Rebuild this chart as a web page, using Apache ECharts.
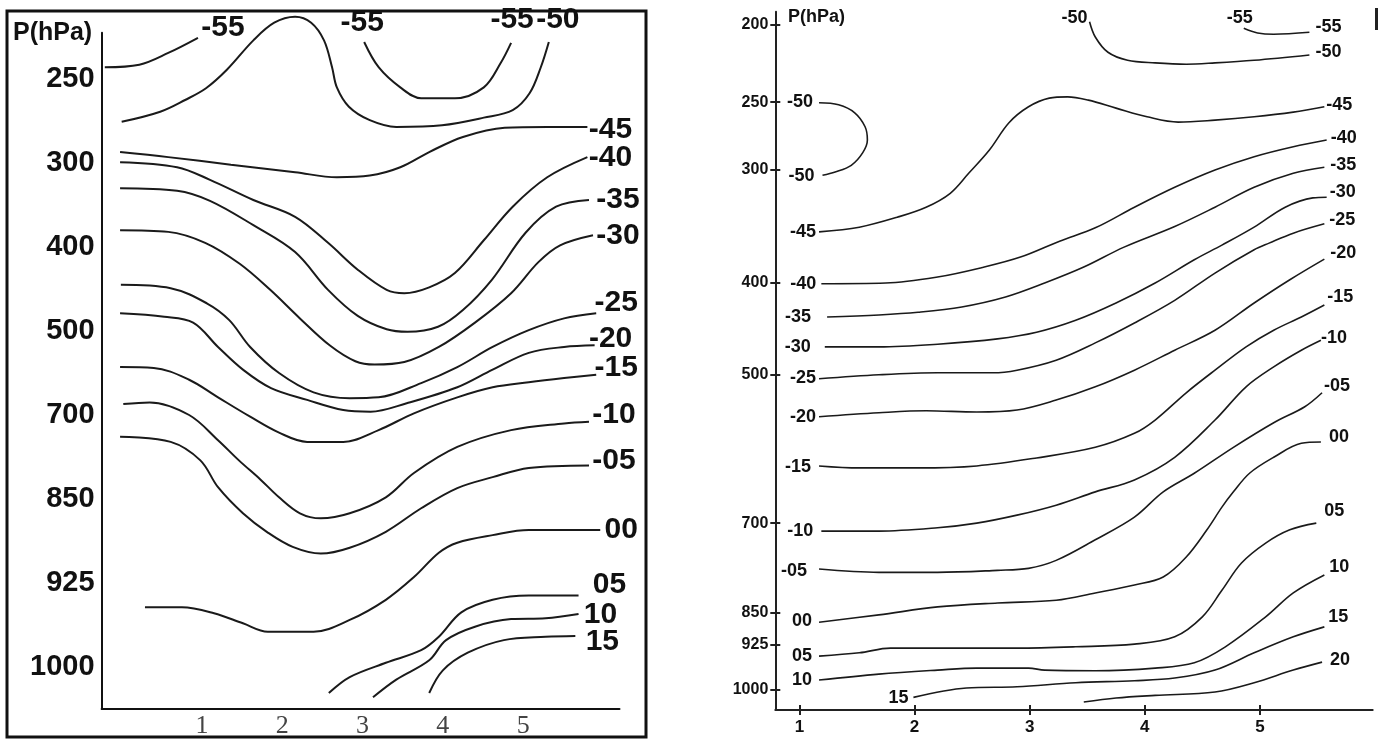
<!DOCTYPE html>
<html>
<head>
<meta charset="utf-8">
<script src="https://cdn.jsdelivr.net/npm/echarts@6/dist/echarts.min.js"></script>
<style>
  html, body { margin: 0; padding: 0; background: #fff; }
  #chart { width: 1380px; height: 742px; }
</style>
</head>
<body>
<div id="chart"></div>
<script>
// ---------- left panel: x = station, y = pressure level index (equally spaced levels) ----------
var leftStations = [1, 2, 3, 4, 5];
var leftLevels = ['250', '300', '400', '500', '700', '850', '925', '1000'];

var L_m55a = [[-0.21,-0.14],[0.22,-0.17],[0.58,-0.31],[0.95,-0.49]];
var L_m50  = [[0.00,0.51],[0.48,0.39],[0.79,0.25],[1.05,0.11],[1.31,-0.11],[1.64,-0.46],[1.90,-0.67],[2.16,-0.74],[2.36,-0.67],[2.52,-0.46],[2.62,-0.14],[2.68,0.10],[2.83,0.33],[3.09,0.49],[3.42,0.57],[3.99,0.55],[4.51,0.46],[4.87,0.37],[5.08,0.17],[5.22,-0.14],[5.32,-0.44]];
var L_m55b = [[3.02,-0.44],[3.20,-0.14],[3.47,0.10],[3.73,0.23],[4.15,0.23],[4.51,0.10],[4.72,-0.19],[4.85,-0.43]];
var L_m45  = [[-0.02,0.87],[0.58,0.93],[1.36,1.02],[2.16,1.11],[2.68,1.17],[3.09,1.15],[3.47,1.05],[3.83,0.87],[4.25,0.69],[4.77,0.58],[5.30,0.57],[5.80,0.57]];
var L_m40  = [[-0.02,0.99],[0.69,1.05],[1.10,1.20],[1.64,1.44],[2.16,1.64],[2.57,1.95],[2.94,2.27],[3.30,2.51],[3.52,2.55],[3.83,2.48],[4.15,2.31],[4.51,1.92],[4.87,1.52],[5.30,1.17],[5.80,0.93]];
var L_m35  = [[-0.02,1.30],[0.69,1.33],[1.10,1.45],[1.64,1.74],[2.16,2.06],[2.57,2.51],[2.94,2.82],[3.30,2.98],[3.56,3.01],[3.94,2.95],[4.25,2.75],[4.61,2.39],[5.03,1.83],[5.41,1.52],[5.82,1.44]];
var L_m30  = [[-0.02,1.80],[0.58,1.82],[1.04,1.95],[1.47,2.20],[1.85,2.51],[2.22,2.85],[2.59,3.17],[2.91,3.36],[3.15,3.40],[3.52,3.37],[3.95,3.19],[4.40,2.90],[4.85,2.55],[5.19,2.18],[5.46,1.98],[5.87,1.86]];
var L_m25  = [[-0.01,2.45],[0.61,2.49],[1.06,2.67],[1.34,2.87],[1.60,3.19],[1.96,3.50],[2.39,3.73],[2.84,3.80],[3.20,3.79],[3.73,3.62],[4.18,3.43],[4.62,3.19],[5.07,2.99],[5.51,2.85],[5.91,2.79]];
var L_m20  = [[-0.02,2.79],[0.53,2.83],[0.89,2.90],[1.20,3.19],[1.51,3.46],[1.86,3.68],[2.31,3.82],[2.76,3.94],[3.10,3.96],[3.55,3.86],[4.18,3.67],[4.62,3.46],[5.07,3.26],[5.51,3.19],[5.89,3.17]];
var L_m15  = [[-0.02,3.43],[0.40,3.44],[0.84,3.58],[1.20,3.79],[1.60,4.02],[1.96,4.21],[2.31,4.32],[2.76,4.32],[3.20,4.18],[3.64,3.98],[4.18,3.79],[4.62,3.67],[5.07,3.61],[5.51,3.56],[5.91,3.52]];
var L_m10  = [[0.02,3.87],[0.35,3.85],[0.84,4.00],[1.20,4.30],[1.46,4.54],[1.73,4.77],[1.96,4.98],[2.22,5.17],[2.48,5.23],[2.84,5.17],[3.29,4.98],[3.64,4.69],[4.18,4.38],[4.85,4.18],[5.51,4.10],[5.82,4.08]];
var L_m05  = [[-0.02,4.26],[0.61,4.32],[0.98,4.54],[1.20,4.86],[1.51,5.17],[1.82,5.40],[2.13,5.57],[2.48,5.65],[2.84,5.58],[3.29,5.39],[3.73,5.11],[4.18,4.87],[4.62,4.74],[5.07,4.63],[5.82,4.60]];
var L_00   = [[0.29,6.29],[0.75,6.29],[1.15,6.36],[1.51,6.48],[1.82,6.58],[2.39,6.58],[2.84,6.44],[3.29,6.20],[3.64,5.93],[3.95,5.64],[4.18,5.52],[4.62,5.43],[5.07,5.37],[5.51,5.37],[5.96,5.37]];
var L_05   = [[2.58,7.31],[2.84,7.12],[3.29,6.95],[3.73,6.80],[3.95,6.64],[4.23,6.35],[4.62,6.20],[5.07,6.15],[5.69,6.15]];
var L_10   = [[3.13,7.36],[3.42,7.15],[3.83,6.92],[4.04,6.68],[4.40,6.52],[4.85,6.43],[5.28,6.42],[5.69,6.37]];
var L_15   = [[3.83,7.31],[4.00,7.04],[4.31,6.83],[4.76,6.68],[5.28,6.64],[5.65,6.63]];

// ---------- right panel: x = station, y = vertical diagram coordinate of the drawn pressure scale ----------
var rightStations = [1, 2, 3, 4, 5];
var rightLevels = ['200', '250', '300', '400', '500', '700', '850', '925', '1000'];
var rightLevelY = [0, 1.16, 2.18, 3.88, 5.26, 7.49, 8.84, 9.32, 10];

var R_m55  = [[4.86,0.05],[4.98,0.12],[5.12,0.14],[5.43,0.11]];
var R_m50a = [[3.52,-0.05],[3.57,0.18],[3.68,0.41],[3.85,0.53],[4.09,0.57],[4.36,0.59],[4.61,0.57],[4.95,0.53],[5.43,0.45]];
var R_m50b = [[1.17,1.17],[1.34,1.20],[1.48,1.32],[1.57,1.53],[1.59,1.73],[1.55,1.92],[1.45,2.11],[1.31,2.21],[1.20,2.26]];
var R_m45  = [[1.17,3.11],[1.52,3.04],[1.85,2.89],[2.10,2.74],[2.31,2.53],[2.47,2.23],[2.65,1.88],[2.82,1.47],[2.99,1.23],[3.17,1.10],[3.33,1.08],[3.51,1.13],[3.75,1.25],[4.02,1.38],[4.29,1.46],[4.61,1.43],[4.95,1.38],[5.29,1.31],[5.56,1.23]];
var R_m40  = [[1.19,3.89],[1.75,3.88],[2.20,3.79],[2.58,3.65],[2.92,3.49],[3.26,3.25],[3.57,3.05],[3.91,2.74],[4.26,2.44],[4.61,2.18],[4.95,1.98],[5.29,1.83],[5.58,1.73]];
var R_m35  = [[1.24,4.39],[1.69,4.36],[2.03,4.32],[2.41,4.24],[2.79,4.09],[3.13,3.88],[3.47,3.64],[3.82,3.34],[4.26,3.03],[4.61,2.74],[4.95,2.44],[5.29,2.23],[5.56,2.14]];
var R_m30  = [[1.22,4.84],[1.69,4.84],[2.20,4.80],[2.72,4.72],[3.06,4.62],[3.40,4.44],[3.75,4.18],[4.09,3.88],[4.43,3.53],[4.67,3.31],[4.95,3.04],[5.22,2.74],[5.46,2.60],[5.58,2.59]];
var R_m25  = [[1.17,5.32],[1.69,5.26],[2.20,5.23],[2.68,5.23],[2.89,5.19],[3.23,5.04],[3.57,4.78],[3.91,4.48],[4.26,4.14],[4.61,3.73],[4.95,3.38],[5.08,3.28],[5.29,3.13],[5.56,2.99]];
var R_m20  = [[1.17,5.89],[1.69,5.83],[2.10,5.80],[2.54,5.82],[2.89,5.79],[3.23,5.64],[3.57,5.44],[3.91,5.19],[4.26,4.89],[4.61,4.59],[4.95,4.18],[5.26,3.83],[5.56,3.52]];
var R_m15  = [[1.17,6.63],[1.52,6.66],[2.03,6.66],[2.54,6.63],[3.06,6.51],[3.57,6.35],[3.91,6.14],[4.09,5.94],[4.36,5.53],[4.61,5.19],[4.88,4.84],[5.12,4.59],[5.36,4.39],[5.56,4.21]];
var R_m10  = [[1.19,7.61],[1.69,7.61],[2.20,7.56],[2.54,7.49],[2.89,7.37],[3.23,7.22],[3.57,7.02],[3.91,6.84],[4.26,6.50],[4.61,5.94],[4.88,5.44],[5.12,5.14],[5.36,4.89],[5.53,4.74]];
var R_m05  = [[1.17,8.18],[1.69,8.23],[2.20,8.23],[2.72,8.20],[2.99,8.17],[3.23,8.05],[3.57,7.74],[3.91,7.40],[4.16,7.02],[4.43,6.74],[4.77,6.35],[5.12,5.98],[5.39,5.74],[5.54,5.53]];
var R_00   = [[1.17,8.98],[1.69,8.87],[2.20,8.75],[2.72,8.69],[3.23,8.65],[3.57,8.54],[3.91,8.42],[4.16,8.30],[4.36,8.00],[4.54,7.59],[4.67,7.25],[4.77,7.02],[4.91,6.74],[5.12,6.50],[5.36,6.29],[5.53,6.27]];
var R_05   = [[1.17,9.49],[1.52,9.44],[1.79,9.37],[2.38,9.37],[2.89,9.37],[3.40,9.35],[3.91,9.31],[4.26,9.20],[4.50,8.90],[4.67,8.50],[4.84,8.09],[5.05,7.79],[5.26,7.59],[5.49,7.49]];
var R_10   = [[1.17,9.85],[1.69,9.76],[2.20,9.70],[2.54,9.67],[2.99,9.67],[3.13,9.70],[3.57,9.71],[4.09,9.67],[4.43,9.59],[4.70,9.35],[5.05,8.90],[5.29,8.54],[5.56,8.27]];
var R_15   = [[1.99,10.11],[2.45,9.97],[2.89,9.95],[3.40,9.89],[3.91,9.86],[4.26,9.82],[4.61,9.70],[4.95,9.44],[5.29,9.20],[5.56,9.05]];
var R_20   = [[3.47,10.18],[3.75,10.12],[4.09,10.08],[4.61,10.03],[4.95,9.89],[5.29,9.70],[5.54,9.58]];

// which line ends carry a label, and where the text centre sits relative to that end (px)
var leftContours = [
  { pts: L_m55a, end: ['-55', [25, -10]] },
  { pts: L_m50,  end: ['-50', [9, -22]] },
  { pts: L_m55b, start: ['-55', [-2, -19]], end: ['-55', [1, -23]] },
  { pts: L_m45,  end: ['-45', [23, 3]] },
  { pts: L_m40,  end: ['-40', [23, 1]] },
  { pts: L_m35,  end: ['-35', [29, 0]] },
  { pts: L_m30,  end: ['-30', [25, 0]] },
  { pts: L_m25,  end: ['-25', [20, -11]] },
  { pts: L_m20,  end: ['-20', [16, -7]] },
  { pts: L_m15,  end: ['-15', [20, -7]] },
  { pts: L_m10,  end: ['-10', [25, -7]] },
  { pts: L_m05,  end: ['-05', [25, -5]] },
  { pts: L_00,   end: ['00', [21, 0]] },
  { pts: L_05,   end: ['05', [31, -11]] },
  { pts: L_10,   end: ['10', [22, 1]] },
  { pts: L_15,   end: ['15', [27, 6]] }
];
var rightContours = [
  { pts: R_m55,  start: ['-55', [-4, -10]], end: ['-55', [19, -5]] },
  { pts: R_m50a, start: ['-50', [-15, -4]], end: ['-50', [19, -3]] },
  { pts: R_m50b, start: ['-50', [-19, -1]], end: ['-50', [-21, 1]] },
  { pts: R_m45,  start: ['-45', [-16, 0]], end: ['-45', [15, -2]] },
  { pts: R_m40,  start: ['-40', [-18, 0]], end: ['-40', [17, -2]] },
  { pts: R_m35,  start: ['-35', [-29, 0]], end: ['-35', [19, -2]] },
  { pts: R_m30,  start: ['-30', [-27, 0]], end: ['-30', [16, -5]] },
  { pts: R_m25,  start: ['-25', [-16, -1]], end: ['-25', [18, -4]] },
  { pts: R_m20,  start: ['-20', [-16, 0]], end: ['-20', [19, -6]] },
  { pts: R_m15,  start: ['-15', [-21, 1]], end: ['-15', [16, -8]] },
  { pts: R_m10,  start: ['-10', [-21, 0]], end: ['-10', [13, -2]] },
  { pts: R_m05,  start: ['-05', [-25, 2]], end: ['-05', [15, -7]] },
  { pts: R_00,   start: ['00', [-17, -1]], end: ['00', [18, -5]] },
  { pts: R_05,   start: ['05', [-17, 0]], end: ['05', [18, -12]] },
  { pts: R_10,   start: ['10', [-17, 0]], end: ['10', [15, -8]] },
  { pts: R_15,   start: ['15', [-15, 1]], end: ['15', [14, -10]] },
  { pts: R_20,   end: ['20', [18, -2]] }
];

var SANS = "'Liberation Sans', Arial, sans-serif";

function contourSeries(list, xi, yi, lineW, fontSize) {
  var out = [];
  var labels = [];
  list.forEach(function (c) {
    out.push({
      type: 'line', xAxisIndex: xi, yAxisIndex: yi,
      data: c.pts, smooth: 0.35, symbol: 'none', clip: false,
      lineStyle: { color: '#1a1a1a', width: lineW },
      silent: true, animation: false
    });
    if (c.start) labels.push({ value: c.pts[0], label: { formatter: c.start[0], offset: c.start[1] } });
    if (c.end) labels.push({ value: c.pts[c.pts.length - 1], label: { formatter: c.end[0], offset: c.end[1] } });
  });
  out.push({
    type: 'scatter', xAxisIndex: xi, yAxisIndex: yi,
    data: labels, symbolSize: 1, clip: false,
    itemStyle: { color: 'rgba(0,0,0,0)', opacity: 1 },
    label: {
      show: true, position: 'inside', color: '#111', opacity: 1,
      fontFamily: SANS, fontWeight: 'bold', fontSize: fontSize
    },
    silent: true, animation: false, z: 5
  });
  return out;
}

var chart = echarts.init(document.getElementById('chart'));

var RX = { min: 0.79, max: 5.98 };
var RY = { min: -0.2, max: 10.3 };
var tickStyle = { color: '#222', width: 2 };

chart.setOption({
  backgroundColor: '#fff',
  animation: false,
  grid: [
    { left: 101.6, top: 32.8, width: 517.9, height: 676.2 },
    { left: 775.3, top: 11.7, width: 597.4, height: 698.3 }
  ],
  xAxis: [
    {
      gridIndex: 0, type: 'value', position: 'bottom', min: -0.25, max: 6.2,
      axisLine: { show: true, onZero: false, lineStyle: { color: '#111', width: 2 } },
      axisTick: { show: false }, splitLine: { show: false },
      axisLabel: {
        customValues: leftStations, margin: 4,
        fontFamily: "'Liberation Serif', 'DejaVu Serif', serif", fontSize: 26, color: '#444'
      }
    },
    {
      gridIndex: 1, type: 'value', position: 'bottom', min: RX.min, max: RX.max,
      axisLine: { show: true, onZero: false, lineStyle: { color: '#222', width: 2 } },
      axisTick: { show: true, customValues: rightStations, length: 5, lineStyle: tickStyle },
      splitLine: { show: false },
      axisLabel: {
        customValues: rightStations, margin: 9,
        fontFamily: SANS, fontWeight: 'bold', fontSize: 17, color: '#111'
      }
    },
    {
      gridIndex: 1, type: 'value', position: 'bottom', min: RX.min, max: RX.max,
      axisLine: { show: false, onZero: false },
      axisTick: { show: true, inside: true, customValues: rightStations, length: 5, lineStyle: tickStyle },
      axisLabel: { show: false }, splitLine: { show: false }
    }
  ],
  yAxis: [
    {
      gridIndex: 0, type: 'value', position: 'left', inverse: true, min: -0.55, max: 7.5,
      axisLine: { show: true, onZero: false, lineStyle: { color: '#111', width: 2 } },
      axisTick: { show: false }, splitLine: { show: false },
      axisLabel: {
        customValues: leftLevels.map(function (_, i) { return i; }),
        formatter: function (v) { return leftLevels[Math.round(v)]; },
        margin: 7, fontFamily: SANS, fontWeight: 'bold', fontSize: 29, color: '#111'
      }
    },
    {
      gridIndex: 1, type: 'value', position: 'left', inverse: true, min: RY.min, max: RY.max,
      axisLine: { show: true, onZero: false, lineStyle: { color: '#222', width: 2 } },
      axisTick: { show: true, customValues: rightLevelY, length: 5, lineStyle: tickStyle },
      splitLine: { show: false },
      axisLabel: {
        customValues: rightLevelY,
        formatter: function (v) {
          var i = rightLevelY.indexOf(v);
          return i < 0 ? '' : rightLevels[i];
        },
        margin: 7, fontFamily: SANS, fontWeight: 'bold', fontSize: 16, color: '#111'
      }
    },
    {
      gridIndex: 1, type: 'value', position: 'left', inverse: true, min: RY.min, max: RY.max,
      axisLine: { show: false, onZero: false },
      axisTick: { show: true, inside: true, customValues: rightLevelY, length: 5, lineStyle: tickStyle },
      axisLabel: { show: false }, splitLine: { show: false }
    }
  ],
  graphic: [
    { type: 'rect', shape: { x: 7, y: 11, width: 639, height: 726 },
      style: { fill: 'none', stroke: '#111', lineWidth: 3 }, silent: true },
    { type: 'text', left: 13, top: 21,
      style: { text: 'P(hPa)', fontFamily: SANS, fontWeight: 'bold', fontSize: 25, fill: '#111' } },
    { type: 'text', left: 788, top: 8,
      style: { text: 'P(hPa)', fontFamily: SANS, fontWeight: 'bold', fontSize: 18, fill: '#111' } },
    { type: 'rect', shape: { x: 1375, y: 8, width: 3, height: 22 }, style: { fill: '#222' }, silent: true }
  ],
  series: [].concat(
    contourSeries(leftContours, 0, 0, 2, 30),
    contourSeries(rightContours, 1, 1, 1.6, 18)
  )
});
</script>
</body>
</html>
